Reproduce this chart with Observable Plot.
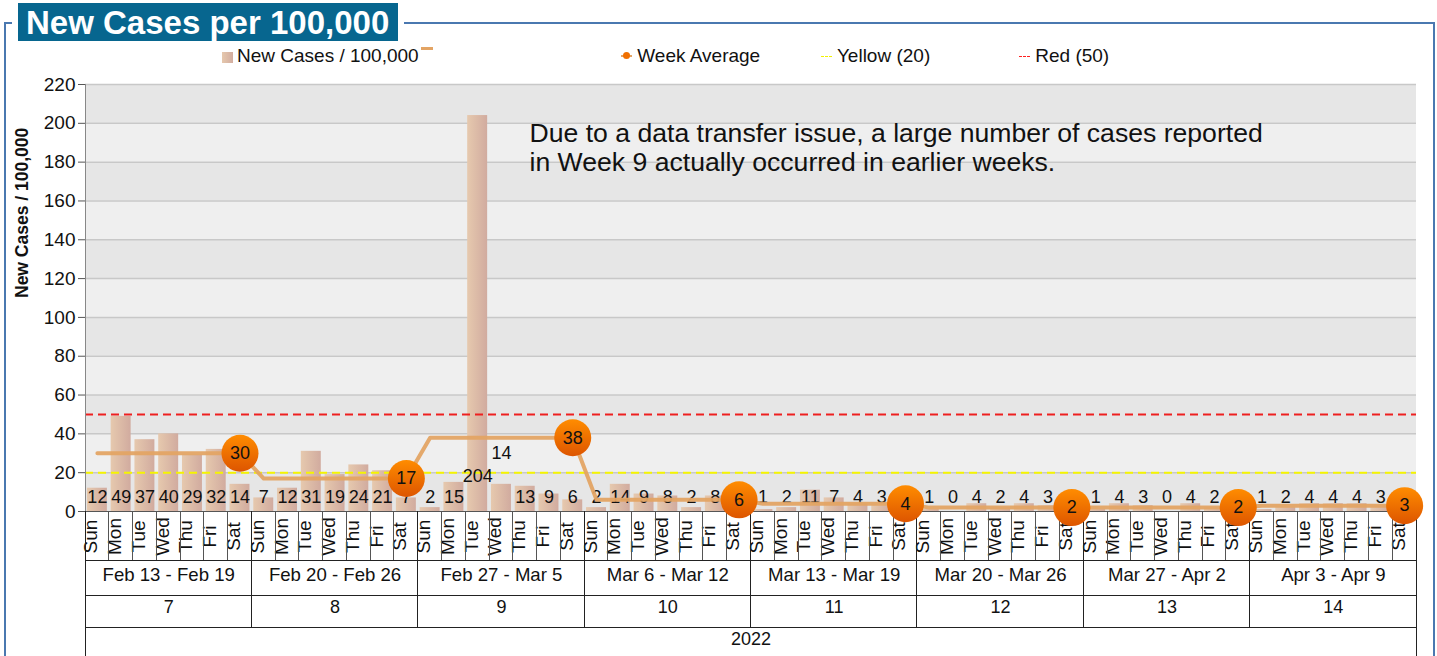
<!DOCTYPE html>
<html>
<head>
<meta charset="utf-8">
<script src="https://cdn.jsdelivr.net/npm/d3@7"></script>
<script src="https://cdn.jsdelivr.net/npm/@observablehq/plot@0.6"></script>
<style>
  html, body { margin: 0; padding: 0; background: #fff; font-family: "Liberation Sans", Arial, sans-serif; }
  #wrap { position: relative; width: 1437px; height: 656px; overflow: hidden; }
  #frame { position: absolute; left: 4px; top: 22px; width: 1431px; height: 700px; border: 2px solid #4a78b0; box-sizing: border-box; }
  #title { position: absolute; left: 12px; top: 3px; height: 38px; padding: 0 6px; background: #fff; }
  #title span { display: block; height: 38px; line-height: 39px; background: #07668f; color: #fff; font-weight: bold; font-size: 33px; padding: 0 9px 0 8px; }
  #chart { position: absolute; left: 0; top: 70px; }
  .leg { position: absolute; top: 45px; font-size: 19px; color: #111; white-space: nowrap; line-height: 22px; }
</style>
</head>
<body>
<div id="wrap">
  <div id="frame"></div>
  <div id="title"><span>New Cases per 100,000</span></div>
  <div class="leg" style="left:222px"><span style="display:inline-block;width:11px;height:11px;background:linear-gradient(90deg,#e6c8ad,#d2ada0);margin-right:4px;vertical-align:-1px"></span>New Cases / 100,000<span style="display:inline-block;width:12px;height:3px;background:#e3a464;vertical-align:12px;margin-left:2px"></span></div>
  <div class="leg" style="left:621px"><span style="display:inline-block;width:11px;height:2px;background:#e3a464;vertical-align:5px;position:relative"><span style="position:absolute;left:2px;top:-3px;width:7px;height:7px;border-radius:50%;background:#f07000"></span></span> Week Average</div>
  <div class="leg" style="left:821px"><span style="display:inline-block;width:11px;border-top:1px dashed #f2f200;vertical-align:5px"></span> Yellow (20)</div>
  <div class="leg" style="left:1019px"><span style="display:inline-block;width:11px;border-top:1px dashed #ff2020;vertical-align:5px"></span> Red (50)</div>
  <div id="chart"></div>
</div>
<script>
const dayNames = ["Sun","Mon","Tue","Wed","Thu","Fri","Sat"];
const weekRanges = ["Feb 13 - Feb 19","Feb 20 - Feb 26","Feb 27 - Mar 5","Mar 6 - Mar 12","Mar 13 - Mar 19","Mar 20 - Mar 26","Mar 27 - Apr 2","Apr 3 - Apr 9"];
const weekNumbers = [7, 8, 9, 10, 11, 12, 13, 14];
const weekAverage = [30, 17, 38, 6, 4, 2, 2, 3];
const newCases = [
  12, 49, 37, 40, 29, 32, 14,
  7, 12, 31, 19, 24, 21, 7,
  2, 15, 204, 14, 13, 9, 6,
  2, 14, 9, 8, 2, 8, 1,
  1, 2, 11, 7, 4, 3, 2,
  1, 0, 4, 2, 4, 3, 1,
  1, 4, 3, 0, 4, 2, 1,
  1, 2, 4, 4, 4, 3, 2
];
const yearLabel = "2022";
const yellowLevel = 20;
const redLevel = 50;
const yTicks = [0,20,40,60,80,100,120,140,160,180,200,220];
const note = "Due to a data transfer issue, a large number of cases reported\nin Week 9 actually occurred in earlier weeks.";

const days = newCases.map((v, i) => ({
  i, v, day: dayNames[i % 7], week: Math.floor(i / 7), avg: weekAverage[Math.floor(i / 7)]
}));
const weeks = weekRanges.map((r, w) => ({ w, range: r, num: weekNumbers[w], avg: weekAverage[w], sat: w * 7 + 6, mid: w * 7 + 3 }));
const bands = d3.range(0, 220, 20).map(lo => ({ lo, hi: lo + 20, dark: (lo / 20) % 2 === 0 }));
// Saturday labels that sit fully under the week-average marker are hidden in the source
const hiddenByMarker = d => d.i % 7 === 6 && d.avg < 10;
const lifted = d => d.i === 16 || d.i === 17;

const defs = () => {
  const g = d3.create("svg:defs");
  const bg = g.append("linearGradient").attr("id", "barGrad").attr("x1", 0).attr("x2", 1).attr("y1", 0).attr("y2", 0);
  bg.append("stop").attr("offset", "0%").attr("stop-color", "#e6c9ae");
  bg.append("stop").attr("offset", "100%").attr("stop-color", "#d1ab9f");
  const dg = g.append("linearGradient").attr("id", "dotGrad").attr("x1", 0).attr("x2", 0).attr("y1", 0).attr("y2", 1);
  dg.append("stop").attr("offset", "0%").attr("stop-color", "#ff8c00");
  dg.append("stop").attr("offset", "100%").attr("stop-color", "#dd5500");
  return g.node();
};

const FONT = 18;
const plot = Plot.plot({
  width: 1437,
  height: 586,
  marginTop: 14,
  marginBottom: 145,
  marginLeft: 85,
  marginRight: 21,
  style: { fontFamily: "'Liberation Sans', Arial, sans-serif", fontSize: "18px", color: "#111", background: "transparent", overflow: "visible" },
  x: { type: "band", domain: d3.range(56), paddingInner: 0.16, paddingOuter: 0.08, axis: null },
  y: { domain: [0, 220], axis: null },
  marks: [
    defs,
    Plot.rect(bands, { y1: "lo", y2: "hi", fill: d => d.dark ? "#e6e6e6" : "#efefef" }),
    Plot.ruleY(yTicks.slice(1), { stroke: "#c8c8c8", strokeWidth: 1.5 }),
    Plot.axisY({ ticks: yTicks, tickSize: 7, tickPadding: 3, fontSize: 19, stroke: "#555" }),
    Plot.text([note], { frameAnchor: "top-left", dx: 444, dy: 38, lineAnchor: "top", textAnchor: "start", fontSize: 26.6, lineHeight: 1.057, fill: "#111" }),
    Plot.barY(days, { x: "i", y: "v", fill: "url(#barGrad)" }),
    Plot.ruleY([yellowLevel], { stroke: "#f5f500", strokeWidth: 2, strokeDasharray: "8,5" }),
    Plot.ruleY([redLevel], { stroke: "#ee2020", strokeWidth: 2, strokeDasharray: "8,5" }),
    // value labels near the baseline; two week-9 labels lifted to avoid overlap (as in source)
    Plot.text(days.filter(d => !lifted(d) && !hiddenByMarker(d)), { x: "i", y: () => 0, dy: -14, text: d => String(d.v), fontSize: FONT, fill: "#111" }),
    Plot.text(days.filter(d => d.i === 16), { x: "i", y: () => 0, dy: -35, text: d => String(d.v), fontSize: FONT, fill: "#111" }),
    Plot.text(days.filter(d => d.i === 17), { x: "i", y: () => 0, dy: -58, text: d => String(d.v), fontSize: FONT, fill: "#111" }),
    Plot.line(days, { x: "i", y: "avg", stroke: "#e3a464", strokeWidth: 4, strokeOpacity: 0.95 }),
    // category table text below the plot
    Plot.text(days, { x: "i", frameAnchor: "bottom", dy: 25, rotate: -90, text: "day", fontSize: 19, fill: "#111" }),
    Plot.text(weeks, { x: d => d.mid, frameAnchor: "bottom", dy: 69, text: "range", fontSize: 18.6, fill: "#111" }),
    Plot.text(weeks, { x: d => d.mid, frameAnchor: "bottom", dy: 101, text: d => String(d.num), fontSize: FONT, fill: "#111" }),
    Plot.text([yearLabel], { frameAnchor: "bottom", dy: 133, fontSize: FONT, fill: "#111" }),
    Plot.text(["New Cases / 100,000"], { frameAnchor: "left", dx: -63, rotate: -90, fontSize: 17.5, fontWeight: "bold", fill: "#111" }),
    Plot.ruleY([0], { stroke: "#555", strokeWidth: 1 }),
    // week-average markers on top of everything
    Plot.dot(weeks, { x: "sat", y: "avg", r: 18.5, fill: "url(#dotGrad)", stroke: "none" }),
    Plot.text(weeks, { x: "sat", y: "avg", text: d => String(d.avg), fontSize: FONT, fill: "#111" })
  ]
});
document.getElementById("chart").appendChild(plot);

// table grid lines derived from the x scale, inserted below the week-average markers
const sx = plot.scale("x");
const step = sx.apply(1) - sx.apply(0);
const edge = i => sx.apply(i) - (step - sx.bandwidth) / 2;
const y0 = 441, left = edge(0), right = edge(55) + step;
const xAt = i => i === 56 ? right : edge(i);
const dotGroup = plot.querySelector("circle").parentNode;
const gNode = document.createElementNS("http://www.w3.org/2000/svg", "g");
plot.insertBefore(gNode, dotGroup);
const g = d3.select(gNode).attr("stroke", "#222").attr("stroke-width", 1).attr("shape-rendering", "crispEdges");
g.append("line").attr("x1", left).attr("x2", left).attr("y1", 14).attr("y2", y0).attr("stroke", "#888");
for (let i = 0; i <= 56; i++) {
  const x = xAt(i);
  const full = i % 7 === 0;
  g.append("line").attr("x1", x).attr("x2", x).attr("y1", y0).attr("y2", (i === 0 || i === 56) ? 600 : full ? 557 : 490)
    .attr("stroke", full ? "#222" : "#555");
}
[490, 525, 557].forEach(yy => g.append("line").attr("x1", left).attr("x2", right).attr("y1", yy).attr("y2", yy));
</script>
</body>
</html>
